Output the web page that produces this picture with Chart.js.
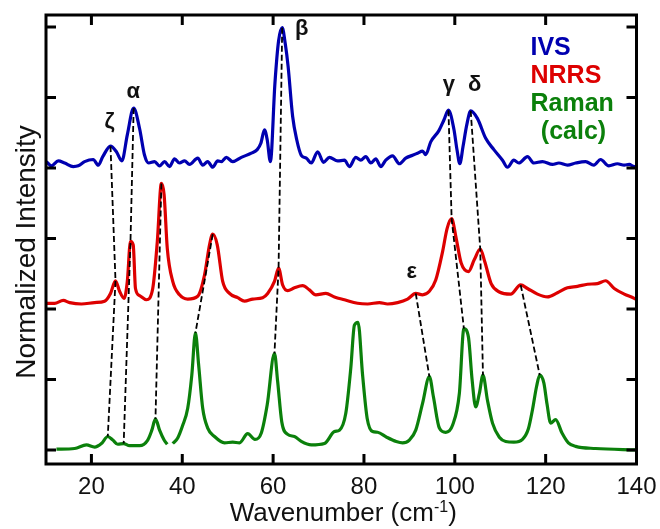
<!DOCTYPE html>
<html>
<head>
<meta charset="utf-8">
<script src="https://cdn.jsdelivr.net/npm/chart.js@4.4.1/dist/chart.umd.min.js"></script>
<style>
  html, body { margin: 0; padding: 0; background: #fff; }
  canvas { display: block; }
</style>
</head>
<body>
<canvas id="spectraChart" width="660" height="529"></canvas>
<script>
// IVS spectrum (offset by 4)
const ivsX = [10.1, 11.2, 12.7, 14.1, 16.0, 17.1, 18.5, 20.4, 21.5, 22.5, 24.2, 25.5, 26.7, 27.9, 29.3, 30.6, 31.7, 32.6,
  33.9, 35.0, 36.1, 37.2, 38.3, 39.4, 40.5, 41.6, 43.4, 44.5, 45.6, 46.7, 47.8, 48.6, 49.7, 51.1, 53.0, 55.2, 56.5,
  57.3, 58.1, 58.7, 59.4, 60.4, 61.2, 62.0, 62.7, 63.3, 64.3, 65.2, 66.2, 67.3, 68.4, 69.8, 71.1, 72.4, 74.2, 75.7,
  76.8, 78.2, 79.3, 80.4, 81.5, 82.6, 83.7, 84.8, 86.3, 87.8, 89.2, 90.7, 91.8, 92.9, 93.6, 94.7, 96.5, 97.6, 98.6,
  99.8, 100.5, 101.1, 101.8, 102.6, 103.5, 105.0, 106.8, 108.6, 110.5, 111.6, 113.0, 114.1, 116.0, 117.4, 119.3,
  121.5, 122.9, 124.8, 126.6, 128.8, 130.6, 132.1, 133.9, 135.8, 137.3, 138.4, 139.5, 140.0];
const ivsY = [4.09, 4.03, 4.10, 4.07, 4.02, 4.03, 4.09, 4.12, 4.04, 4.16, 4.31, 4.23, 4.10, 4.47, 4.85, 4.56, 4.18, 4.07,
  4.09, 4.03, 4.09, 4.02, 4.13, 4.07, 4.10, 4.05, 4.14, 4.04, 4.09, 4.01, 4.10, 4.09, 4.15, 4.09, 4.15, 4.21, 4.26,
  4.35, 4.54, 4.40, 4.09, 5.20, 5.80, 5.99, 5.75, 5.44, 4.73, 4.40, 4.18, 4.14, 4.07, 4.23, 4.08, 4.15, 4.10, 4.11,
  4.02, 4.15, 4.11, 4.16, 4.07, 4.13, 4.02, 4.11, 4.17, 4.06, 4.14, 4.18, 4.21, 4.24, 4.19, 4.37, 4.53, 4.68, 4.82,
  4.55, 4.25, 4.06, 4.30, 4.60, 4.81, 4.70, 4.42, 4.26, 4.11, 4.01, 4.11, 4.07, 4.16, 4.07, 4.09,
  4.05, 4.07, 4.04, 4.07, 4.09, 4.04, 4.12, 4.03, 4.06, 4.04, 4.05, 4.02, 4.03];

// NRRS spectrum (offset by 2)
const nrrsX = [10.0, 11.9, 13.8, 15.2, 17.8, 20.7, 22.9, 24.2, 25.3, 26.2, 27.2, 27.9, 28.6, 29.2, 29.7, 30.6, 32.1,
  33.5, 34.5, 35.4, 36.0, 36.7, 37.9, 39.4, 41.2, 43.4, 44.9, 46.0, 46.7, 47.7, 48.9, 50.4, 52.2, 53.7, 55.5, 57.7,
  58.8, 60.3, 61.2, 62.1, 63.2, 64.7, 66.5, 68.0, 69.4, 71.6, 73.5, 75.7, 78.6, 80.8, 83.4, 85.2, 87.4, 89.6, 91.4,
  92.9, 94.4, 95.8, 97.3, 98.3, 99.3, 100.3, 101.4, 103.0, 104.3, 105.6, 106.6, 108.0, 109.8, 112.3, 114.5, 116.0,
  118.2, 120.4, 122.6, 124.8, 127.0, 129.2, 131.4, 133.2, 135.1, 137.3, 139.5, 140.0];
const nrrsY = [2.08, 2.08, 2.12, 2.09, 2.07, 2.09, 2.11, 2.22, 2.40, 2.25, 2.15, 2.39, 2.96, 2.91, 2.29, 2.19, 2.13,
  2.29, 2.95, 3.78, 3.62, 2.86, 2.39, 2.20, 2.14, 2.18, 2.48, 2.91, 3.06, 2.91, 2.39, 2.22, 2.16, 2.11, 2.14, 2.16,
  2.22, 2.39, 2.58, 2.34, 2.26, 2.30, 2.33, 2.27, 2.20, 2.22, 2.17, 2.13, 2.08, 2.07, 2.09, 2.07, 2.09, 2.14, 2.22,
  2.20, 2.25, 2.41, 2.81, 3.14, 3.28, 3.00, 2.65, 2.53, 2.70, 2.85, 2.67, 2.36, 2.24, 2.21, 2.34, 2.29,
  2.21, 2.17, 2.23, 2.30, 2.32, 2.35, 2.36, 2.40, 2.29, 2.21, 2.15, 2.13];

// calculated Raman spectrum (null = gap in the trace)
const ramanX = [12.3, 16.3, 18.9, 20.7, 22.2, 23.6, 24.7, 25.8, 27.1, 28.4, 30.6, 32.4, 33.3, 34.1, 35.0, 36.0, 36.7,
  37.2, 37.9, 39.0, 40.1, 41.2, 42.1, 42.9, 43.6, 44.5, 45.6, 47.1, 49.3, 51.1, 52.6, 54.4, 56.0, 57.4, 58.7, 60.3,
  61.0, 61.9, 63.2, 64.7, 66.2, 68.4, 71.3, 73.5, 74.6, 76.0, 77.1, 77.9, 78.7, 79.7, 80.7, 81.9, 83.0, 85.0, 87.1,
  88.5, 90.0, 91.4, 92.9, 94.4, 95.3, 96.6, 98.0, 99.5, 101.0, 102.0, 103.0, 103.8, 104.6, 105.4, 106.2, 107.2,
  108.3, 109.8, 111.2, 113.0, 114.9, 116.2, 117.1, 118.0, 118.7, 119.6, 120.3, 121.1, 122.2, 123.6, 125.0, 126.6,
  131.0, 140.0];
const ramanY = [0.01, 0.02, 0.07, 0.04, 0.09, 0.19, 0.14, 0.08, 0.09, 0.06, 0.06, 0.14, 0.28, 0.44, 0.28, 0.14, 0.08,
  null, 0.09, 0.17, 0.35, 0.59, 1.06, 1.66, 1.21, 0.59, 0.31, 0.19, 0.10, 0.11, 0.10, 0.23, 0.15, 0.24, 0.64, 1.37,
  0.97, 0.40, 0.22, 0.19, 0.12, 0.07, 0.09, 0.26, 0.28, 0.52, 1.16, 1.77, 1.81, 1.06, 0.45, 0.26, 0.25, 0.18, 0.12,
  0.10, 0.14, 0.28, 0.66, 1.04, 0.75, 0.31, 0.25, 0.35, 0.80, 1.72, 1.60, 1.00, 0.61, 0.80, 1.06, 0.70,
  0.38, 0.18, 0.12, 0.11, 0.15, 0.30, 0.57, 0.90, 1.06, 0.95, 0.65, 0.38, 0.43, 0.24, 0.10, 0.05,
  0.02, 0.00];

// dashed correlation lines: peak positions [x, y] from IVS -> NRRS -> Raman
const linkZeta = [[24.2, 4.31], [25.3, 2.40], [23.6, 0.19]];
const linkAlpha = [[29.3, 4.85], [28.6, 2.96], [27.1, 0.09]];
const link35 = [[35.4, 3.78], [34.1, 0.44]];
const link46 = [[46.7, 3.06], [42.9, 1.66]];
const linkBeta = [[62.0, 5.99], [61.2, 2.58], [60.3, 1.37]];
const linkGamma = [[98.6, 4.82], [99.3, 3.28], [102.0, 1.72]];
const linkDelta = [[103.5, 4.81], [105.6, 2.85], [106.2, 1.06]];
const linkEps = [[91.4, 2.22], [94.4, 1.04]];
const link114 = [[114.5, 2.34], [118.7, 1.06]];

const modeLetters = ['ζ', 'α', 'β', 'γ', 'δ', 'ε'];
const modeLetterX = [24.0, 29.2, 66.3, 98.7, 104.4, 90.5];
const modeLetterY = [4.65, 5.08, 5.97, 5.18, 5.18, 2.53];

const seriesNames = ['IVS', 'NRRS', 'Raman', '(calc)'];
const xTicks = [20, 40, 60, 80, 100, 120, 140];
const yTicks = [0, 1, 2, 3, 4, 5, 6];

const BLUE = '#0000b0';
const RED = '#dd0000';
const GREEN = '#0b800b';
const FONT = "'Liberation Sans', Arial, sans-serif";

function toPoints(xs, ys) {
  return xs.map((x, i) => ({ x: x, y: ys[i] }));
}

function dashed(pts) {
  return {
    data: pts.map(p => ({ x: p[0], y: p[1] })),
    borderColor: '#000',
    borderWidth: 1.8,
    borderDash: [6, 3],
    pointRadius: 0,
    tension: 0,
    order: 0
  };
}

function spectrum(xs, ys, color) {
  return {
    data: toPoints(xs, ys),
    borderColor: color,
    borderWidth: 3.2,
    pointRadius: 0,
    cubicInterpolationMode: 'monotone',
    spanGaps: false,
    order: 1
  };
}

// frame, inward ticks, peak letters, legend text and axis titles
const decorations = {
  id: 'decorations',
  afterDatasetsDraw(chart) {
    const { ctx, chartArea: a, scales: { x, y } } = chart;
    ctx.save();
    ctx.strokeStyle = '#000';
    ctx.lineWidth = 3;
    ctx.strokeRect(a.left, a.top, a.right - a.left, a.bottom - a.top);
    ctx.beginPath();
    xTicks.forEach(v => {
      const px = x.getPixelForValue(v);
      ctx.moveTo(px, a.bottom); ctx.lineTo(px, a.bottom - 10);
      ctx.moveTo(px, a.top); ctx.lineTo(px, a.top + 10);
    });
    yTicks.forEach(v => {
      const py = y.getPixelForValue(v);
      ctx.moveTo(a.left, py); ctx.lineTo(a.left + 10, py);
      ctx.moveTo(a.right, py); ctx.lineTo(a.right - 10, py);
    });
    ctx.stroke();

    // mode letters
    ctx.fillStyle = '#111';
    ctx.font = 'bold 22px ' + FONT;
    ctx.textAlign = 'center';
    ctx.textBaseline = 'middle';
    modeLetters.forEach((t, i) => {
      ctx.fillText(t, x.getPixelForValue(modeLetterX[i]), y.getPixelForValue(modeLetterY[i]));
    });

    // legend text
    ctx.font = 'bold 25px ' + FONT;
    ctx.textAlign = 'left';
    const lx = a.right - 106;
    ctx.fillStyle = BLUE;
    ctx.fillText(seriesNames[0], lx, a.top + 33);
    ctx.fillStyle = RED;
    ctx.fillText(seriesNames[1], lx, a.top + 61);
    ctx.fillStyle = GREEN;
    ctx.fillText(seriesNames[2], lx, a.top + 89);
    ctx.textAlign = 'center';
    ctx.fillText(seriesNames[3], lx + 43, a.top + 117);
    ctx.restore();
  },
  afterDraw(chart) {
    const { ctx, chartArea: a } = chart;
    ctx.save();
    ctx.fillStyle = '#111';
    // y title
    ctx.font = '28px ' + FONT;
    ctx.textAlign = 'center';
    ctx.textBaseline = 'alphabetic';
    ctx.translate(35, 252);
    ctx.rotate(-Math.PI / 2);
    ctx.fillText('Normalized Intensity', 0, 0);
    ctx.setTransform(1, 0, 0, 1, 0, 0);

    // x title with superscript
    const main = 'Wavenumber (cm';
    const sup = '-1';
    const close = ')';
    ctx.font = '26px ' + FONT;
    const w1 = ctx.measureText(main).width;
    const w3 = ctx.measureText(close).width;
    ctx.font = '16px ' + FONT;
    const w2 = ctx.measureText(sup).width;
    const total = w1 + w2 + w3;
    let sx = (a.left + a.right) / 2 + 2 - total / 2;
    const base = 521;
    ctx.textAlign = 'left';
    ctx.font = '26px ' + FONT;
    ctx.fillText(main, sx, base);
    ctx.font = '16px ' + FONT;
    ctx.fillText(sup, sx + w1, base - 9);
    ctx.font = '26px ' + FONT;
    ctx.fillText(close, sx + w1 + w2, base);
    ctx.restore();
  }
};

new Chart(document.getElementById('spectraChart'), {
  type: 'line',
  data: {
    datasets: [
      dashed(linkZeta), dashed(linkAlpha), dashed(link35), dashed(link46), dashed(linkBeta),
      dashed(linkGamma), dashed(linkDelta), dashed(linkEps), dashed(link114),
      spectrum(ivsX, ivsY, BLUE),
      spectrum(nrrsX, nrrsY, RED),
      spectrum(ramanX, ramanY, GREEN)
    ]
  },
  options: {
    responsive: false,
    animation: false,
    devicePixelRatio: 1,
    layout: { padding: { top: 15, right: 23.5, left: 0, bottom: 0 } },
    plugins: { legend: { display: false }, tooltip: { enabled: false } },
    scales: {
      x: {
        type: 'linear',
        min: 10,
        max: 140,
        grid: { display: false, drawTicks: false },
        border: { display: false },
        afterBuildTicks: s => { s.ticks = xTicks.map(v => ({ value: v })); },
        afterFit: s => { s.height = 65; s.paddingLeft = 0; s.paddingRight = 0; },
        ticks: {
          color: '#111',
          padding: 9,
          maxRotation: 0,
          font: { family: FONT, size: 24 }
        }
      },
      y: {
        type: 'linear',
        min: -0.2,
        max: 6.17,
        grid: { display: false, drawTicks: false },
        border: { display: false },
        afterBuildTicks: s => { s.ticks = yTicks.map(v => ({ value: v })); },
        afterFit: s => { s.width = 46; s.paddingTop = 0; s.paddingBottom = 0; },
        ticks: { display: false }
      }
    }
  },
  plugins: [decorations]
});
</script>
</body>
</html>
